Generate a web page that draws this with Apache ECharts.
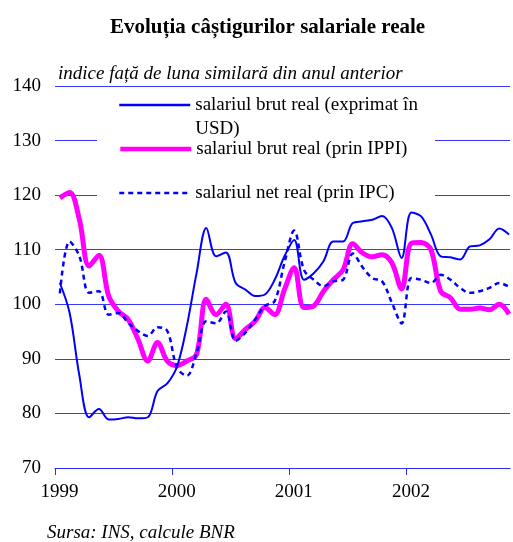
<!DOCTYPE html>
<html>
<head>
<meta charset="utf-8">
<script src="https://cdn.jsdelivr.net/npm/echarts@6/dist/echarts.min.js"></script>
<style>
  html, body { margin: 0; padding: 0; background: #fff; }
  #chart { width: 513px; height: 542px; }
</style>
</head>
<body>
<div id="chart"></div>
<script>
// serii lunare ian 1999 - nov 2002, indice fata de luna similara
var yearLabels = ['1999', '2000', '2001', '2002'];
var usd = [103.9, 98.4, 86.9, 79.3, 80.8, 78.9, 79.0, 79.3, 79.1, 79.3, 84.1, 85.5,
           88.6, 96.0, 105.7, 114.0, 108.8, 109.5, 103.9, 102.7, 101.5, 101.8, 104.5, 108.8,
           111.8, 104.5, 105.7, 107.9, 111.5, 111.5, 114.9, 115.2, 115.5, 116.2, 114.0, 108.5,
           116.8, 116.1, 112.8, 108.8, 108.6, 108.2, 110.6, 110.8, 111.9, 113.9, 112.8];
var ippi = [119.5, 120.5, 115.5, 107.0, 109.0, 101.5, 98.7, 97.2, 93.6, 89.6, 93.0, 89.6,
            88.8, 89.6, 90.8, 100.9, 98.1, 100.0, 93.7, 95.4, 96.9, 99.4, 98.1, 102.7,
            106.7, 99.4, 99.7, 102.4, 104.5, 106.3, 111.1, 109.4, 108.7, 109.1, 107.6, 102.8,
            111.2, 111.3, 110.0, 102.4, 101.2, 99.1, 99.1, 99.3, 99.0, 100.0, 98.2];
var ipc = [102.0, 111.5, 108.8, 102.1, 102.4, 98.1, 98.4, 96.6, 95.1, 94.2, 95.8, 95.1,
           88.4, 86.9, 91.1, 96.9, 96.5, 98.7, 93.3, 94.8, 97.2, 99.7, 100.6, 107.6,
           113.5, 106.3, 104.5, 103.3, 104.2, 104.5, 109.3, 106.8, 104.8, 104.2, 100.3, 96.5,
           104.8, 104.5, 103.9, 105.4, 104.5, 103.0, 102.1, 102.4, 103.0, 103.9, 103.2];

var nume = [
    'salariul brut real (exprimat în\nUSD)',
    'salariul brut real (prin IPPI)',
    'salariul net real (prin IPC)'
];

function pe_luni(arr) {
    // punct la mijlocul lunii
    var out = [];
    for (var i = 0; i < arr.length; i++) out.push([i + 0.5, arr[i]]);
    return out;
}

var serif = 'Liberation Serif';
var chart = echarts.init(document.getElementById('chart'));

var legendaText = { fontFamily: serif, fontSize: 19, color: '#000', lineHeight: 24 };

chart.setOption({
    animation: false,
    title: [
        { text: 'Evoluția câștigurilor salariale reale', left: 105, top: 12,
          textStyle: { fontFamily: serif, fontSize: 21, fontWeight: 'bold', color: '#000' } },
        { text: 'indice față de luna similară din anul anterior', left: 58, top: 64, padding: 0,
          textStyle: { fontFamily: serif, fontSize: 19, fontStyle: 'italic', fontWeight: 'normal', color: '#000' } },
        { text: 'Sursa: INS, calcule BNR', left: 47, top: 523, padding: 0,
          textStyle: { fontFamily: serif, fontSize: 19, fontStyle: 'italic', fontWeight: 'normal', color: '#000' } }
    ],
    graphic: [
        { type: 'rect', z: 1, silent: true, shape: { x: 97, y: 92, width: 338, height: 108 },
          style: { fill: '#fff' } }
    ],
    legend: [
        { data: [nume[0]], left: 118, top: 69, padding: 0, itemWidth: 71, itemHeight: 10,
          itemStyle: { opacity: 0 }, lineStyle: { width: 2.5 },
          textStyle: legendaText, formatter: function (n) { return '\n' + n; } },
        { data: [nume[1]], left: 118, top: 137, padding: 0, itemWidth: 71, itemHeight: 10,
          itemStyle: { opacity: 0 }, lineStyle: { width: 4.5 },
          textStyle: legendaText },
        { data: [nume[2]], left: 118, top: 181, padding: 0, itemWidth: 71, itemHeight: 10,
          itemStyle: { opacity: 0 }, lineStyle: { width: 2.5 },
          textStyle: legendaText }
    ],
    grid: { left: 55, right: 3, top: 86, bottom: 74 },
    xAxis: {
        type: 'value', min: 0, max: 46.6, interval: 12,
        axisLine: { lineStyle: { color: '#2b2bff', width: 1 } },
        axisTick: { show: true, length: 7, lineStyle: { color: '#2b2bff' } },
        splitLine: { show: false },
        axisLabel: {
            fontFamily: serif, fontSize: 19, color: '#000', margin: 15, padding: [0, 0, 0, 9],
            showMaxLabel: false,
            formatter: function (v) { return yearLabels[Math.round(v / 12)] || ''; }
        }
    },
    yAxis: {
        type: 'value', min: 70, max: 140, interval: 10,
        axisLine: { show: false },
        axisTick: { show: false },
        splitLine: { lineStyle: { color: '#3a3aff', width: 1 } },
        axisLabel: { fontFamily: serif, fontSize: 19, color: '#000', margin: 14 }
    },
    series: [
        { name: nume[0], type: 'line', data: pe_luni(usd), smooth: 0.35, symbol: 'none', z: 3,
          lineStyle: { color: '#0000ff', width: 2 }, itemStyle: { color: '#0000ff' } },
        { name: nume[1], type: 'line', data: pe_luni(ippi), smooth: 0.35, symbol: 'none', z: 2,
          lineStyle: { color: '#ff00ff', width: 5 }, itemStyle: { color: '#ff00ff' } },
        { name: nume[2], type: 'line', data: pe_luni(ipc), smooth: 0.35, symbol: 'none', z: 4,
          lineStyle: { color: '#0000ff', width: 2.5, type: [5, 4] }, itemStyle: { color: '#0000ff' } }
    ]
});
</script>
</body>
</html>
